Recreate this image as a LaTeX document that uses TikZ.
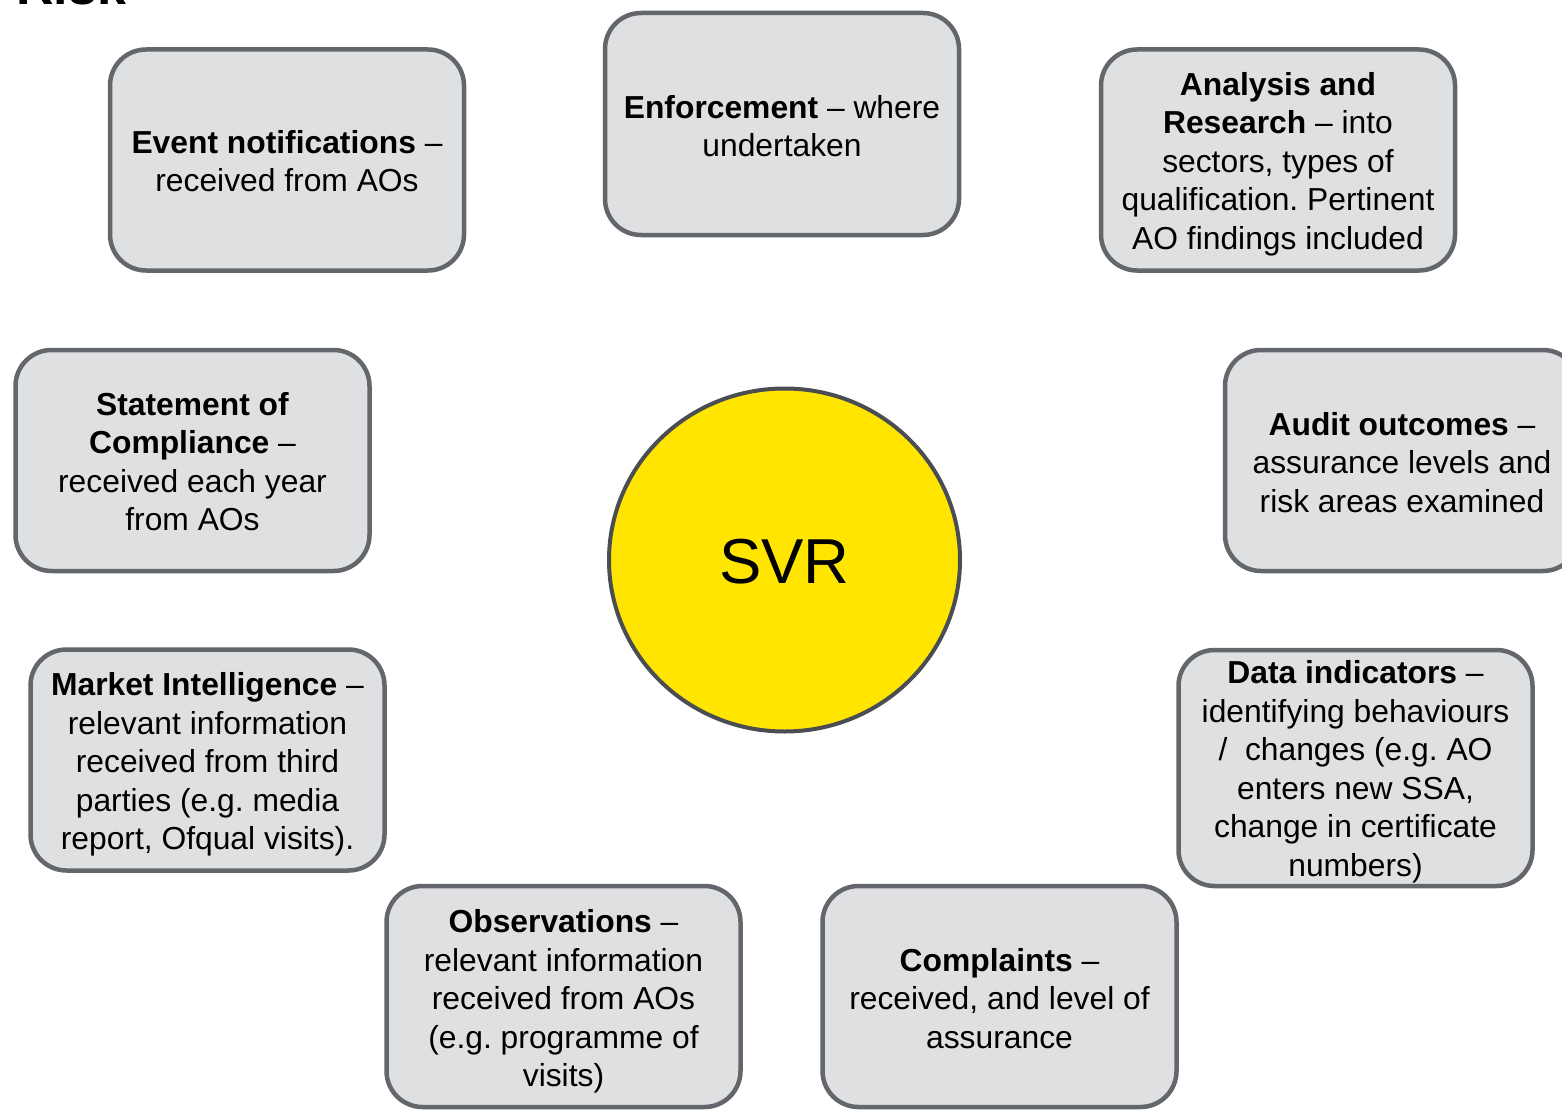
\documentclass[tikz,border=0pt]{standalone}
\usepackage{fontspec}
\setmainfont{Liberation Sans}
\usetikzlibrary{shapes.geometric}
\frenchspacing
\begin{document}
\begin{tikzpicture}[x=1pt,y=-1pt,
  infobox/.style={draw=boxline, fill=boxfill, line width=4.5pt,
    rounded corners=36pt, minimum width=354pt, minimum height=221pt,
    inner sep=0pt},
  boxtext/.style={align=center, inner sep=0pt,
    font=\fontsize{31.8}{38.5}\selectfont},
  hub/.style={ellipse, draw=hubline, fill=hubfill, line width=4pt,
    minimum width=351pt, minimum height=343pt, inner sep=0pt,
    font=\fontsize{63.5}{70}\selectfont}]
\definecolor{boxfill}{HTML}{DFE0E2}
\definecolor{boxline}{HTML}{63666A}
\definecolor{hubfill}{HTML}{FFE500}
\definecolor{hubline}{HTML}{4A4D52}
\useasboundingbox (0,0) rectangle (1562,1110);
\clip (0,0) rectangle (1562,1110);

% heading, running off the top edge
\node[anchor=base west, inner sep=0pt, font=\fontsize{52}{60}\selectfont\bfseries]
  (title) at (16,5) {Risk};

% central circle
\node[hub] (svr) at (784.5,560) {};
\node[inner sep=0pt, font=\fontsize{63.5}{70}\selectfont] (svrtext)
  at ([yshift=-2pt]svr.center) {SVR};

% surrounding information sources: frames
\node[infobox] (event) at (287,160) {};
\node[infobox, minimum height=222pt] (enforce) at (782,124) {};
\node[infobox] (analysis) at (1278,160) {};
\node[infobox] (statement) at (192.5,460.5) {};
\node[infobox] (audit) at (1402,460.5) {};
\node[infobox] (market) at (207.5,760) {};
\node[infobox, minimum height=236pt] (data) at (1355.5,768) {};
\node[infobox] (observe) at (563.5,996.5) {};
\node[infobox] (complain) at (999.5,996.5) {};

% surrounding information sources: wording
\node[boxtext] (eventtext) at ([yshift=-1pt]event.center)
  {\textbf{Event notifications} –\\received from AOs};
\node[boxtext] (enforcetext) at ([yshift=-2pt]enforce.center)
  {\textbf{Enforcement} – where\\undertaken};
\node[boxtext] (analysistext) at ([yshift=-4pt]analysis.center)
  {\textbf{Analysis and}\\\textbf{Research} – into\\sectors, types of\\qualification. Pertinent\\AO findings included};
\node[boxtext] (statementtext) at ([yshift=-1pt]statement.center)
  {\textbf{Statement of}\\\textbf{Compliance} –\\received each year\\from AOs};
\node[boxtext] (audittext) at ([yshift=-2pt]audit.center)
  {\textbf{Audit outcomes} –\\assurance levels and\\risk areas examined};
\node[boxtext] (markettext) at ([yshift=-4.5pt]market.center)
  {\textbf{Market Intelligence} –\\relevant information\\received from third\\parties (e.g. media\\report, Ofqual visits).};
\node[boxtext] (datatext) at ([yshift=-4pt]data.center)
  {\textbf{Data indicators} –\\identifying behaviours\\/ \ changes (e.g. AO\\enters new SSA,\\change in certificate\\numbers)};
\node[boxtext] (observetext) at ([yshift=-5pt]observe.center)
  {\textbf{Observations} –\\relevant information\\received from AOs\\(e.g. programme of\\visits)};
\node[boxtext] (complaintext) at ([yshift=-2pt]complain.center)
  {\textbf{Complaints} –\\received, and level of\\assurance};
\end{tikzpicture}
\end{document}
